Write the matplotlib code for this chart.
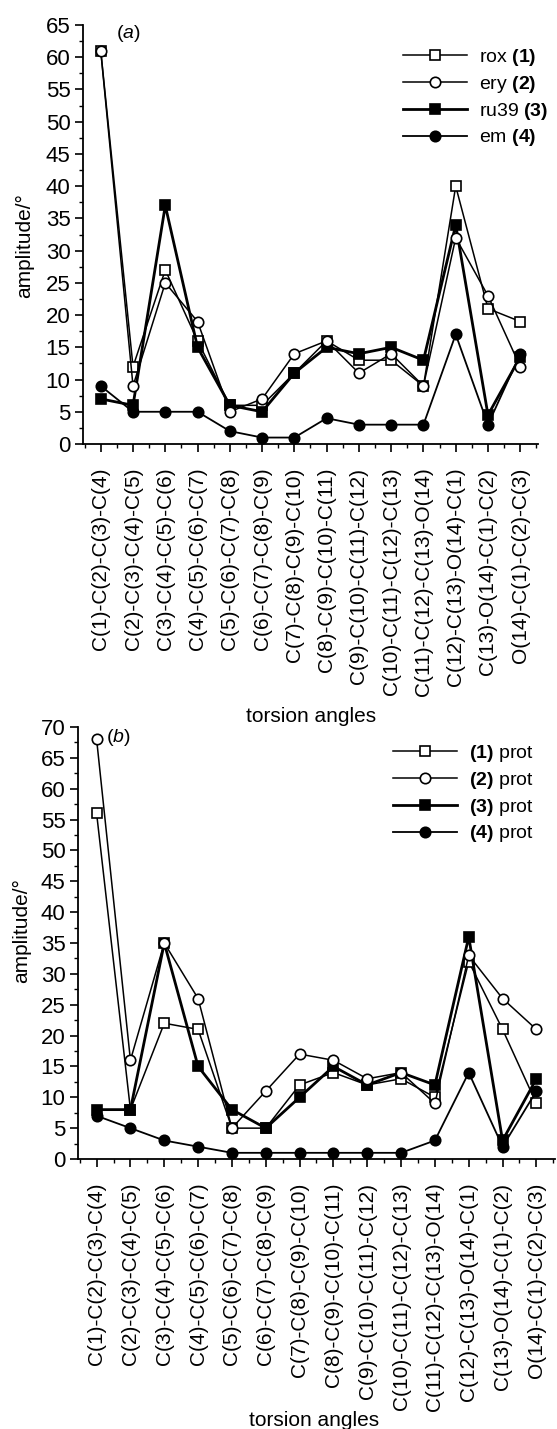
import matplotlib
matplotlib.use("Agg")
import matplotlib.pyplot as plt
from matplotlib.ticker import MultipleLocator

plt.rcParams["font.family"] = ["Liberation Sans", "DejaVu Sans"]
plt.rcParams["mathtext.fontset"] = "custom"
plt.rcParams["mathtext.rm"] = "Liberation Sans"
plt.rcParams["mathtext.it"] = "Liberation Sans:italic"
plt.rcParams["mathtext.bf"] = "Liberation Sans:bold"

# torsion angles (x categories)
angles = ["C(1)-C(2)-C(3)-C(4)", "C(2)-C(3)-C(4)-C(5)", "C(3)-C(4)-C(5)-C(6)",
          "C(4)-C(5)-C(6)-C(7)", "C(5)-C(6)-C(7)-C(8)", "C(6)-C(7)-C(8)-C(9)",
          "C(7)-C(8)-C(9)-C(10)", "C(8)-C(9)-C(10)-C(11)", "C(9)-C(10)-C(11)-C(12)",
          "C(10)-C(11)-C(12)-C(13)", "C(11)-C(12)-C(13)-O(14)", "C(12)-C(13)-O(14)-C(1)",
          "C(13)-O(14)-C(1)-C(2)", "O(14)-C(1)-C(2)-C(3)"]

# panel (a) amplitudes
rox = [61, 12, 27, 16, 6, 6, 11, 16, 13, 13, 9, 40, 21, 19]
ery = [61, 9, 25, 19, 5, 7, 14, 16, 11, 14, 9, 32, 23, 12]
ru39 = [7, 6, 37, 15, 6, 5, 11, 15, 14, 15, 13, 34, 4.5, 13.5]
em = [9, 5, 5, 5, 2, 1, 1, 4, 3, 3, 3, 17, 3, 14]

# panel (b) amplitudes, protonated forms
rox_prot = [56, 8, 22, 21, 5, 5, 12, 14, 12, 13, 10, 32, 21, 9]
ery_prot = [68, 16, 35, 26, 5, 11, 17, 16, 13, 14, 9, 33, 26, 21]
ru39_prot = [8, 8, 35, 15, 8, 5, 10, 15, 12, 14, 12, 36, 3, 13]
em_prot = [7, 5, 3, 2, 1, 1, 1, 1, 1, 1, 3, 14, 2, 11]

labels_a = ["rox $\\mathbf{(1)}$", "ery $\\mathbf{(2)}$", "ru39 $\\mathbf{(3)}$", "em $\\mathbf{(4)}$"]
labels_b = ["$\\mathbf{(1)}$ prot", "$\\mathbf{(2)}$ prot", "$\\mathbf{(3)}$ prot", "$\\mathbf{(4)}$ prot"]

W, H = 557, 1429
fig = plt.figure(figsize=(W / 100, H / 100), dpi=100)

# styles: marker, face, line width, zorder
styles = [("s", "white", 1.1, 3),
          ("o", "white", 1.1, 5),
          ("s", "black", 2.0, 4),
          ("o", "black", 1.3, 6)]


def draw_panel(ax, series, labels, ymax, leg_xy, tag, tag_xy):
    x = list(range(len(angles)))
    handles = []
    for vals, lab, (mk, fc, lw, zo) in zip(series, labels, styles):
        h, = ax.plot(x, vals, color="black", lw=lw, marker=mk, ms=7.5,
                     mfc=fc, mec="black", mew=1.2, zorder=zo, clip_on=False, label=lab)
        handles.append(h)
    ax.set_xlim(-0.55, 13.55)
    ax.set_ylim(0, ymax)
    ax.spines["top"].set_visible(False)
    ax.spines["right"].set_visible(False)
    ax.spines["left"].set_linewidth(1.3)
    ax.spines["bottom"].set_linewidth(1.3)
    ax.yaxis.set_major_locator(MultipleLocator(5))
    ax.yaxis.set_minor_locator(MultipleLocator(2.5))
    ax.set_xticks(x)
    ax.set_xticklabels(angles, rotation=90, fontsize=15)
    ax.xaxis.set_minor_locator(MultipleLocator(0.5))
    ax.tick_params(axis="y", which="major", direction="out", length=6, width=1.2,
                   labelsize=16, pad=3)
    ax.tick_params(axis="y", which="minor", direction="out", length=3, width=1)
    ax.tick_params(axis="x", which="major", direction="out", length=6, width=1.2, pad=11)
    ax.tick_params(axis="x", which="minor", direction="out", length=3, width=1)
    ax.legend(handles=handles, loc="upper left",
              bbox_to_anchor=(leg_xy[0] / W, 1 - leg_xy[1] / H),
              bbox_transform=fig.transFigure, frameon=False, fontsize=14,
              handlelength=3.3, handletextpad=0.6, labelspacing=0.3,
              borderpad=0, borderaxespad=0, markerscale=1.0)
    fig.text(tag_xy[0] / W, 1 - tag_xy[1] / H, tag, fontsize=14, va="center", ha="left")


ax_a = fig.add_axes([83 / W, 1 - 444 / H, (538 - 83) / W, (444 - 25) / H])
draw_panel(ax_a, [rox, ery, ru39, em], labels_a, 65, (403, 47), "($\\mathit{a}$)", (116, 33))
fig.text(25 / W, 1 - 246 / H, "amplitude/\u00b0", rotation=90, fontsize=15, ha="center", va="center")
fig.text(311 / W, 1 - 716 / H, "torsion angles", fontsize=15, ha="center", va="center")

ax_b = fig.add_axes([78 / W, 1 - 1159 / H, (555 - 78) / W, (1159 - 727) / H])
draw_panel(ax_b, [rox_prot, ery_prot, ru39_prot, em_prot], labels_b, 70, (393, 743), "($\\mathit{b}$)", (106, 738))
fig.text(22 / W, 1 - 931 / H, "amplitude/\u00b0", rotation=90, fontsize=15, ha="center", va="center")
fig.text(314 / W, 1 - 1420 / H, "torsion angles", fontsize=15, ha="center", va="center")

fig.savefig("out.png", dpi=100)
